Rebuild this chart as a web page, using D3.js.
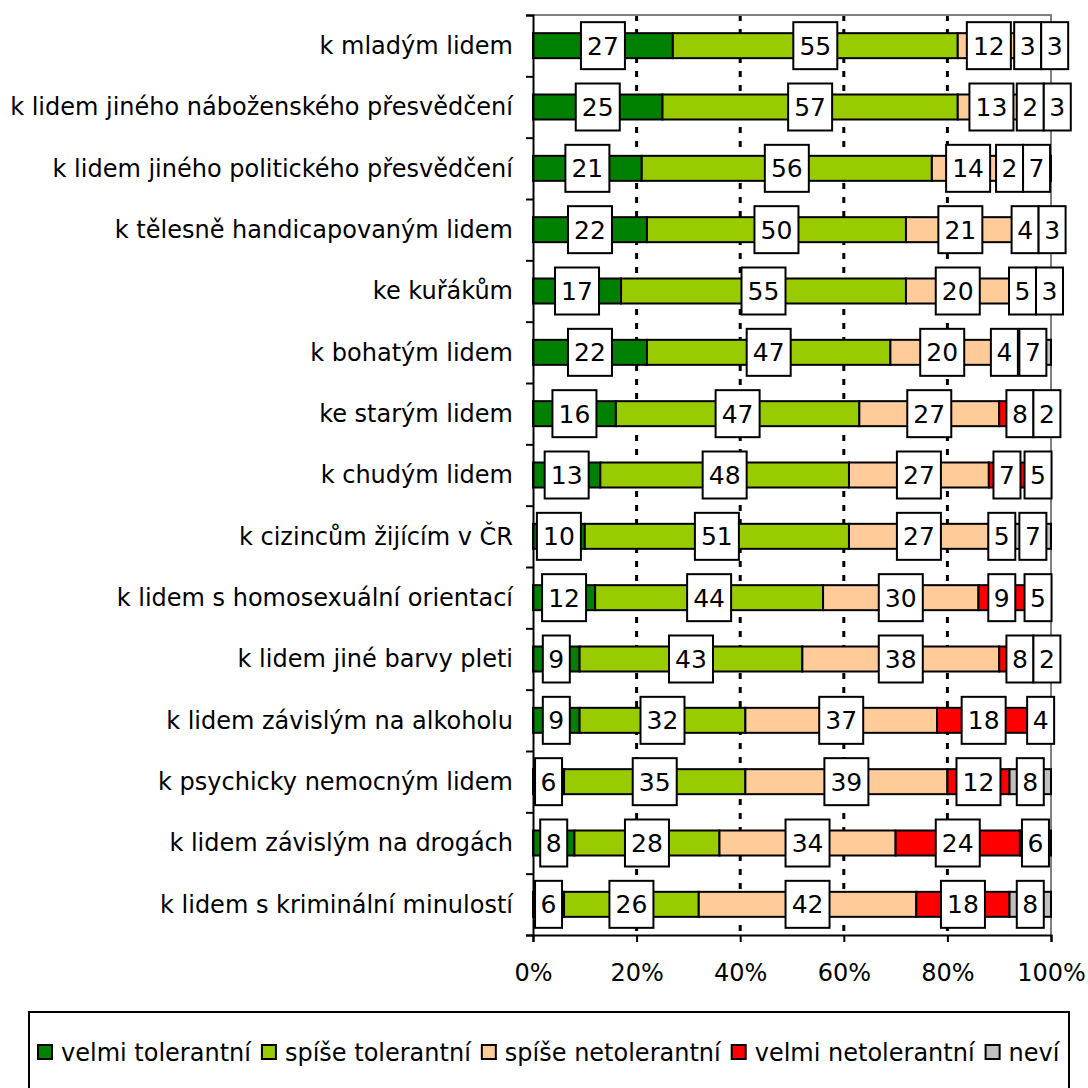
<!DOCTYPE html>
<html>
<head>
<meta charset="utf-8">
<script src="https://cdn.jsdelivr.net/npm/d3@7"></script>
<style>
  body { margin: 0; background: #fff; }
  text { font-family: Verdana, "DejaVu Sans", sans-serif; fill: #000; }
</style>
</head>
<body>
<div id="chart"></div>
<script>
// tolerance towards groups, percent
var categories = [
  "k mladým lidem",
  "k lidem jiného náboženského přesvědčení",
  "k lidem jiného politického přesvědčení",
  "k tělesně handicapovaným lidem",
  "ke kuřákům",
  "k bohatým lidem",
  "ke starým lidem",
  "k chudým lidem",
  "k cizincům žijícím v ČR",
  "k lidem s homosexuální orientací",
  "k lidem jiné barvy pleti",
  "k lidem závislým na alkoholu",
  "k psychicky nemocným lidem",
  "k lidem závislým na drogách",
  "k lidem s kriminální minulostí"
];
var seriesNames = ["velmi tolerantní", "spíše tolerantní", "spíše netolerantní", "velmi netolerantní", "neví"];
var velmiTolerantni  = [27, 25, 21, 22, 17, 22, 16, 13, 10, 12,  9,  9,  6,  8,  6];
var spiseTolerantni  = [55, 57, 56, 50, 55, 47, 47, 48, 51, 44, 43, 32, 35, 28, 26];
var spiseNetolerantni = [12, 13, 14, 21, 20, 20, 27, 27, 27, 30, 38, 37, 39, 34, 42];
var velmiNetolerantni = [3,  2,  2,  4,  5,  4,  8,  7,  5,  9,  8, 18, 12, 24, 18];
var nevi             = [3,  3,  7,  3,  3,  7,  2,  5,  7,  5,  2,  4,  8,  6,  8];
var xTicks = [0, 20, 40, 60, 80, 100];
var colors = ["#008000", "#99cc00", "#ffcc99", "#ff0000", "#c0c0c0"];

var W = 1088, H = 1088;
var plotLeft = 533, plotRight = 1051, plotTop = 15, plotBottom = 935;
var barH = 25;

var svg = d3.select("#chart").append("svg")
  .attr("width", W)
  .attr("height", H);

var seriesValues = [velmiTolerantni, spiseTolerantni, spiseNetolerantni, velmiNetolerantni, nevi];
var table = categories.map(function(c, i) {
  var row = { cat: c };
  seriesNames.forEach(function(s, j) { row[s] = seriesValues[j][i]; });
  return row;
});
var stacked = d3.stack().keys(seriesNames)(table);

var x = d3.scaleLinear().domain([0, 100]).range([plotLeft, plotRight]);
var y = d3.scaleBand().domain(categories).range([plotTop, plotBottom]);
var yIdx = d3.scaleLinear().domain([0, categories.length]).range([plotTop, plotBottom]);

// dotted gridlines
svg.append("g").selectAll("line")
  .data([20, 40, 60, 80])
  .join("line")
  .attr("x1", function(d) { return x(d); })
  .attr("x2", function(d) { return x(d); })
  .attr("y1", plotTop)
  .attr("y2", plotBottom)
  .attr("stroke", "#000")
  .attr("stroke-width", 3)
  .attr("stroke-dasharray", "6,8");

// plot area border (top + right)
svg.append("path")
  .attr("d", "M" + plotLeft + "," + plotTop + "H" + plotRight + "V" + plotBottom)
  .attr("fill", "none")
  .attr("stroke", "#808080")
  .attr("stroke-width", 2);

// bars
svg.append("g").selectAll("g")
  .data(stacked)
  .join("g")
  .attr("fill", function(d, i) { return colors[i]; })
  .selectAll("rect")
  .data(function(d) { return d; })
  .join("rect")
  .attr("x", function(d) { return x(d[0]); })
  .attr("y", function(d) { return y(d.data.cat) + y.bandwidth() / 2 - barH / 2; })
  .attr("width", function(d) { return x(d[1]) - x(d[0]); })
  .attr("height", barH)
  .attr("stroke", "#000")
  .attr("stroke-width", 2);

// axes
var xAxis = d3.axisBottom(x).tickValues(xTicks).tickSize(7).tickPadding(22)
  .tickFormat(function(d) { return d + "%"; });
var gx = svg.append("g")
  .attr("transform", "translate(0," + plotBottom + ")")
  .call(xAxis);
gx.select(".domain").attr("stroke-width", 2);
gx.selectAll(".tick line").attr("stroke-width", 2);
gx.selectAll("text").attr("font-size", 24).attr("font-family", "Verdana, 'DejaVu Sans', sans-serif");

var yAxis = d3.axisLeft(yIdx).ticks(categories.length).tickSize(7).tickFormat("");
var gy = svg.append("g")
  .attr("transform", "translate(" + plotLeft + ",0)")
  .call(yAxis);
gy.select(".domain").attr("stroke-width", 2);
gy.selectAll(".tick line").attr("stroke-width", 2);

// category labels
svg.append("g").selectAll("text")
  .data(categories)
  .join("text")
  .attr("x", 513)
  .attr("y", function(d) { return y(d) + y.bandwidth() / 2; })
  .attr("dy", "0.35em")
  .attr("text-anchor", "end")
  .attr("font-size", 24)
  .text(function(d) { return d; });

// value labels in boxes, pushed right when they would overlap
var labels = [];
categories.forEach(function(c, i) {
  var prevRight = -Infinity;
  stacked.forEach(function(s) {
    var d = s[i];
    var v = d[1] - d[0];
    var txt = String(v);
    var w = txt.length > 1 ? 44 : 27;
    var cx = x((d[0] + d[1]) / 2);
    var lx = Math.max(cx - w / 2, prevRight);
    prevRight = lx + w;
    labels.push({ x: lx, w: w, cy: y(c) + y.bandwidth() / 2, txt: txt });
  });
});

var lab = svg.append("g").selectAll("g")
  .data(labels)
  .join("g");
lab.append("rect")
  .attr("x", function(d) { return d.x; })
  .attr("y", function(d) { return d.cy - 23.5; })
  .attr("width", function(d) { return d.w; })
  .attr("height", 47)
  .attr("fill", "#fff")
  .attr("stroke", "#000")
  .attr("stroke-width", 2);
lab.append("text")
  .attr("x", function(d) { return d.x + d.w / 2; })
  .attr("y", function(d) { return d.cy; })
  .attr("dy", "0.36em")
  .attr("text-anchor", "middle")
  .attr("font-size", 25)
  .attr("font-family", "'DejaVu Sans Condensed', 'DejaVu Sans', sans-serif")
  .text(function(d) { return d.txt; });

// legend
svg.append("rect")
  .attr("x", 29)
  .attr("y", 1012)
  .attr("width", 1040)
  .attr("height", 100)
  .attr("fill", "#fff")
  .attr("stroke", "#000")
  .attr("stroke-width", 2);

var lx = 38;
seriesNames.forEach(function(s, i) {
  svg.append("rect")
    .attr("x", lx)
    .attr("y", 1045)
    .attr("width", 14)
    .attr("height", 14)
    .attr("fill", colors[i])
    .attr("stroke", "#000")
    .attr("stroke-width", 2);
  var t = svg.append("text")
    .attr("x", lx + 23)
    .attr("y", 1061)
    .attr("font-size", 24)
    .text(s);
  lx = lx + 23 + t.node().getComputedTextLength() + 11;
});
</script>
</body>
</html>
